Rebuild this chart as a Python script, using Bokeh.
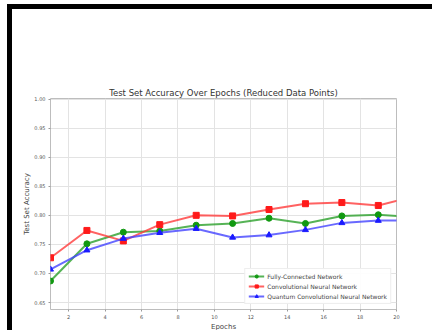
from bokeh.plotting import figure
from bokeh.models import (Legend, LegendItem, FixedTicker, Range1d, Div,
                          CustomJSTickFormatter)
from bokeh.layouts import column, row
from bokeh.embed import file_html
from bokeh.resources import INLINE

epochs = [1, 3, 5, 7, 9, 11, 13, 15, 17, 19, 21]
fcn = [0.687, 0.751, 0.771, 0.773, 0.783, 0.786, 0.795, 0.786, 0.799, 0.801, 0.797]
cnn = [0.727, 0.774, 0.756, 0.784, 0.800, 0.799, 0.810, 0.820, 0.822, 0.817, 0.833]
qcnn = [0.707, 0.740, 0.760, 0.770, 0.777, 0.762, 0.766, 0.775, 0.787, 0.791, 0.791]
x_ticks = [2, 4, 6, 8, 10, 12, 14, 16, 18, 20]
y_ticks = [0.65, 0.70, 0.75, 0.80, 0.85, 0.90, 0.95, 1.00]
names = ["Fully-Connected Network", "Convolutional Neural Network",
         "Quantum Convolutional Neural Network"]

FONT = "DejaVu Sans"
p = figure(output_backend="svg", toolbar_location=None,
           frame_width=346, frame_height=211,
           min_border_left=38, min_border_right=36, min_border_top=89, min_border_bottom=21,
           x_range=Range1d(1, 20), y_range=Range1d(0.638, 1.001),
           title="Test Set Accuracy Over Epochs (Reduced Data Points)", margin=0)
p.title.text_font = FONT
p.title.text_font_size = "8.5px"
p.title.text_font_style = "normal"
p.title.text_color = "#333333"
p.title.align = "center"
p.title.offset = 0
p.title.standoff = 1

p.outline_line_color = "#bdbdbd"
p.outline_line_width = 1
for ax in (p.xaxis[0], p.yaxis[0]):
    ax.axis_line_color = None
    ax.major_tick_line_color = "#999999"
    ax.minor_tick_line_color = None
    ax.major_tick_out = 2
    ax.major_tick_in = 0
    ax.major_label_text_font = FONT
    ax.major_label_text_font_size = "5px"
    ax.major_label_text_color = "#555555"
    ax.axis_label_text_font = FONT
    ax.axis_label_text_font_size = "7px"
    ax.axis_label_text_font_style = "normal"
    ax.axis_label_text_color = "#444444"
    ax.major_label_standoff = 3
p.xaxis.axis_label_standoff = 1
p.yaxis.axis_label_standoff = 0
p.xaxis.ticker = FixedTicker(ticks=x_ticks)
p.yaxis.ticker = FixedTicker(ticks=y_ticks)
p.yaxis.formatter = CustomJSTickFormatter(code="return tick.toFixed(2);")
p.xaxis.axis_label = "Epochs"
p.yaxis.axis_label = "Test Set Accuracy"
p.grid.grid_line_color = "#e3e3e3"
p.grid.grid_line_width = 1

series = [(fcn, "#2ca02c", "#119911", "circle"),
          (cnn, "#ff3b3b", "#ff1a1a", "square"),
          (qcnn, "#4444ff", "#1a1aff", "triangle")]
items = []
for (vals, lc, mc, mk), name in zip(series, names):
    ln = p.line(epochs, vals, line_color=lc, line_width=2, line_alpha=0.8)
    sc = p.scatter(epochs, vals, marker=mk, size=6, fill_color=mc, line_color=mc)
    items.append(LegendItem(label=name, renderers=[ln, sc]))

legend = Legend(items=items, location="bottom_right")
legend.label_text_font = FONT
legend.label_text_font_size = "6px"
legend.label_text_color = "#444444"
legend.glyph_width = 16
legend.glyph_height = 8
legend.label_height = 8
legend.spacing = 2
legend.padding = 3
legend.margin = 5
legend.label_standoff = 3
legend.border_line_color = "#dddddd"
legend.background_fill_alpha = 0.9
p.add_layout(legend)

gap_top = Div(text="", width=432, height=4, margin=0)
gap_left = Div(text="", width=7, height=326, margin=0)
top_bar = Div(text="", width=425, height=5, margin=0,
              styles={"background-color": "black"})
left_bar = Div(text="", width=5, height=321, margin=0,
               styles={"background-color": "black"})
inner = column(top_bar, row(left_bar, p, spacing=0, margin=0), spacing=0, margin=0)
layout = column(gap_top, row(gap_left, inner, spacing=0, margin=0),
                spacing=0, margin=0)

open("out.html", "w").write(file_html(layout, INLINE))
